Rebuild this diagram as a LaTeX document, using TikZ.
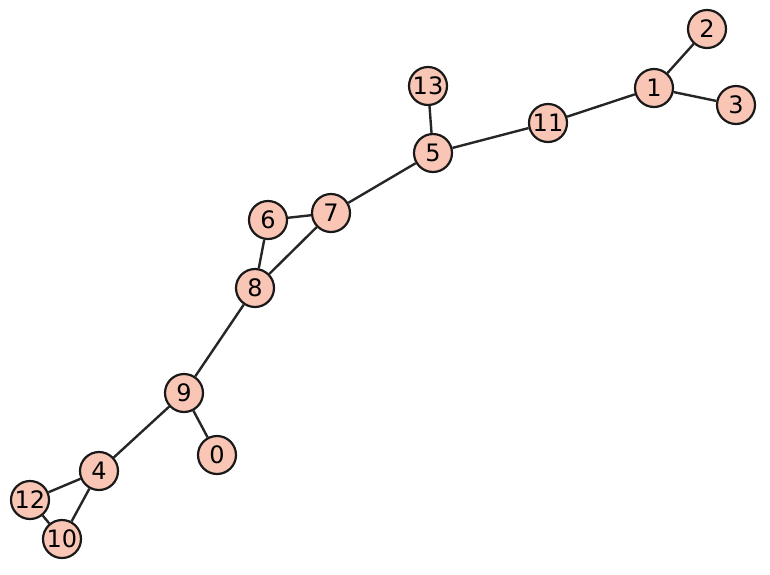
\documentclass[tikz,border=0pt]{standalone}
\usepackage{fontspec}
\setmainfont{DejaVu Sans}
\definecolor{vfill}{HTML}{F9C6B6}
\begin{document}
\begin{tikzpicture}[x=1pt,y=-1pt,
  vtx/.style={circle,draw=black!90,line width=2.2pt,fill=vfill,minimum size=38pt,inner sep=0pt,font=\fontsize{24}{24}\selectfont},
  edge/.style={line width=2.4pt,draw=black!85}]
\useasboundingbox (0,0) rectangle (770,574);
\node[vtx] (n2) at (707,29) {2};
\node[vtx] (n1) at (654,88) {1};
\node[vtx] (n3) at (736,105) {3};
\node[vtx] (n11) at (548,123) {11};
\node[vtx] (n13) at (428,86) {13};
\node[vtx] (n5) at (433,153) {5};
\node[vtx] (n7) at (331,213) {7};
\node[vtx] (n6) at (268,220) {6};
\node[vtx] (n8) at (255,288) {8};
\node[vtx] (n9) at (184,393) {9};
\node[vtx] (n0) at (217,455) {0};
\node[vtx] (n4) at (99,471) {4};
\node[vtx] (n12) at (30,500) {12};
\node[vtx] (n10) at (62,539) {10};
\draw[edge] (n2) -- (n1) (n1) -- (n3) (n1) -- (n11) (n11) -- (n5) (n13) -- (n5) (n5) -- (n7) (n7) -- (n6) (n7) -- (n8) (n6) -- (n8) (n8) -- (n9) (n9) -- (n0) (n9) -- (n4) (n4) -- (n12) (n4) -- (n10) (n12) -- (n10);
\end{tikzpicture}
\end{document}
